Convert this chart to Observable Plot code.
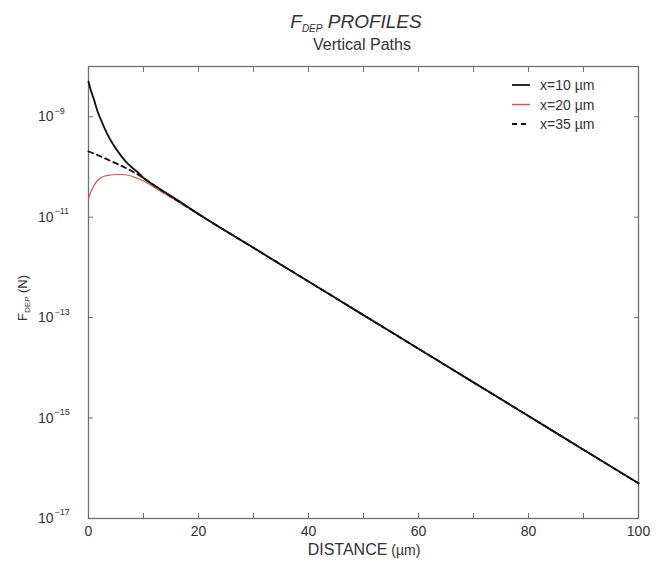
<!DOCTYPE html>
<html>
<head>
<meta charset="utf-8">
<script src="https://cdn.jsdelivr.net/npm/d3@7"></script>
<script src="https://cdn.jsdelivr.net/npm/@observablehq/plot@0.6"></script>
<style>
  body { margin: 0; background: #fff; }
  #chart { width: 665px; height: 564px; }
</style>
</head>
<body>
<div id="chart"></div>
<script>
// ---- tick values / labels ----
const xLabelTicks = [0, 20, 40, 60, 80, 100];
const xMinorTicks = [0, 10, 20, 30, 40, 50, 60, 70, 80, 90, 100];
const yTicks = [1e-9, 1e-11, 1e-13, 1e-15, 1e-17];
const yTickExponents = ["−9", "−11", "−13", "−15", "−17"];

// ---- series (distance in µm, force in N) ----
// common far-field tail shared by all three paths
const tailDistance = [20, 30, 40, 50, 60, 70, 80, 90, 100];
const tailForce = [1.15e-11, 2.45e-12, 5.25e-13, 1.12e-13, 2.40e-14, 5.13e-15, 1.10e-15, 2.34e-16, 5.01e-17];

// x = 10 µm (solid black)
const x10Distance = [0, 0.5, 1, 1.6, 2.5, 3.4, 4.3, 5.2, 6, 7, 8, 9, 10, 12, 14, 17];
const x10Force = [5.01e-9, 3.16e-9, 2.19e-9, 1.32e-9, 7.59e-10, 4.57e-10, 3.02e-10, 2.14e-10, 1.62e-10, 1.20e-10, 9.55e-11, 7.76e-11, 6.03e-11, 4.27e-11, 3.09e-11, 1.91e-11];

// x = 20 µm (red)
const x20Distance = [0, 0.5, 1, 1.5, 2.2, 3, 4, 5, 6, 7, 8, 9, 10, 11, 12, 14, 17];
const x20Force = [2.34e-11, 3.31e-11, 4.27e-11, 5.13e-11, 6.03e-11, 6.61e-11, 6.92e-11, 7.08e-11, 7.08e-11, 6.92e-11, 6.46e-11, 5.89e-11, 5.25e-11, 4.57e-11, 3.89e-11, 2.88e-11, 1.82e-11];

// x = 35 µm (dashed black)
const x35Distance = [0, 2, 4, 6, 8, 10, 12, 15];
const x35Force = [2.04e-10, 1.66e-10, 1.32e-10, 1.05e-10, 8.13e-11, 6.03e-11, 4.27e-11, 2.57e-11];

const seriesNames = ["x=10 µm", "x=20 µm", "x=35 µm"];

function rows(dist, force) {
  const out = dist.map((d, i) => ({distance: d, force: force[i]}));
  tailDistance.forEach((d, i) => out.push({distance: d, force: tailForce[i]}));
  return out;
}
const s10 = rows(x10Distance, x10Force);
const s20 = rows(x20Distance, x20Force);
const s35 = rows(x35Distance, x35Force);

const FONT = "'Liberation Sans', Arial, sans-serif";
const AX = "#707070";
const TXT = "#333";

const chart = Plot.plot({
  width: 665,
  height: 564,
  marginTop: 66,
  marginRight: 27,
  marginBottom: 46,
  marginLeft: 88,
  style: {fontFamily: FONT, color: TXT, background: "#fff"},
  x: {domain: [0, 100]},
  y: {type: "log", domain: [1e-17, 1e-8]},
  marks: [
    Plot.axisX(xMinorTicks, {anchor: "bottom", tickSize: -5, tickFormat: () => "", stroke: AX, label: null}),
    Plot.axisX(xMinorTicks, {anchor: "top", tickSize: -5, tickFormat: () => "", stroke: AX, label: null}),
    Plot.axisX(xLabelTicks, {anchor: "bottom", tickSize: 0, tickPadding: 8, fontSize: 14, fill: TXT, label: null}),
    Plot.axisY(yTicks, {anchor: "left", tickSize: -5, tickFormat: () => "", stroke: AX, label: null}),
    Plot.axisY(yTicks, {anchor: "right", tickSize: -5, tickFormat: () => "", stroke: AX, label: null}),
    Plot.text(yTicks, {y: d => d, frameAnchor: "left", text: () => "10", textAnchor: "end", dx: -35, fontSize: 14, fill: TXT}),
    Plot.text(yTicks, {y: d => d, frameAnchor: "left", text: (d, i) => yTickExponents[i], textAnchor: "start", dx: -34, dy: -6, fontSize: 9, fill: TXT}),
    Plot.frame({stroke: AX, strokeWidth: 1.3}),
    Plot.line(s20, {x: "distance", y: "force", stroke: "#e0504a", strokeWidth: 1.2, curve: "monotone-x"}),
    Plot.line(s10, {x: "distance", y: "force", stroke: "#111", strokeWidth: 1.8, curve: "monotone-x"}),
    Plot.line(s35, {x: "distance", y: "force", stroke: "#111", strokeWidth: 1.8, strokeDasharray: "5,4", curve: "monotone-x"})
  ]
});
document.getElementById("chart").appendChild(chart);

// ---- titles, axis labels and legend added to the same SVG ----
const svg = d3.select(chart);
const g = svg.append("g").attr("font-family", FONT).attr("fill", TXT);

const t = g.append("text").attr("x", 356).attr("y", 28).attr("text-anchor", "middle")
  .attr("font-size", 19).attr("font-style", "italic");
t.append("tspan").text("F");
t.append("tspan").attr("font-size", 10).attr("dy", 4).text("DEP");
t.append("tspan").attr("dy", -4).text(" PROFILES");

g.append("text").attr("x", 362).attr("y", 50).attr("text-anchor", "middle")
  .attr("font-size", 16).text("Vertical Paths");

const xl = g.append("text").attr("x", 364).attr("y", 555).attr("text-anchor", "middle").attr("font-size", 16);
xl.append("tspan").text("DISTANCE");
xl.append("tspan").attr("font-size", 14).text(" (µm)");

const yl = g.append("text").attr("transform", "translate(27,298) rotate(-90)")
  .attr("text-anchor", "middle").attr("font-size", 13);
yl.append("tspan").text("F");
yl.append("tspan").attr("font-size", 8).attr("dy", 3).text("DEP");
yl.append("tspan").attr("dy", -3).text(" (N)");

const legendStyles = [
  {stroke: "#111", width: 1.8, dash: null},
  {stroke: "#e0504a", width: 1.4, dash: null},
  {stroke: "#111", width: 1.8, dash: "5,4"}
];
const lg = g.append("g");
seriesNames.forEach((name, i) => {
  const y = 85 + i * 19.5;
  const st = legendStyles[i];
  lg.append("line").attr("x1", 512).attr("x2", 530).attr("y1", y).attr("y2", y)
    .attr("stroke", st.stroke).attr("stroke-width", st.width)
    .attr("stroke-dasharray", st.dash);
  lg.append("text").attr("x", 540).attr("y", y + 5).attr("text-anchor", "start")
    .attr("font-size", 14).text(name);
});
</script>
</body>
</html>
